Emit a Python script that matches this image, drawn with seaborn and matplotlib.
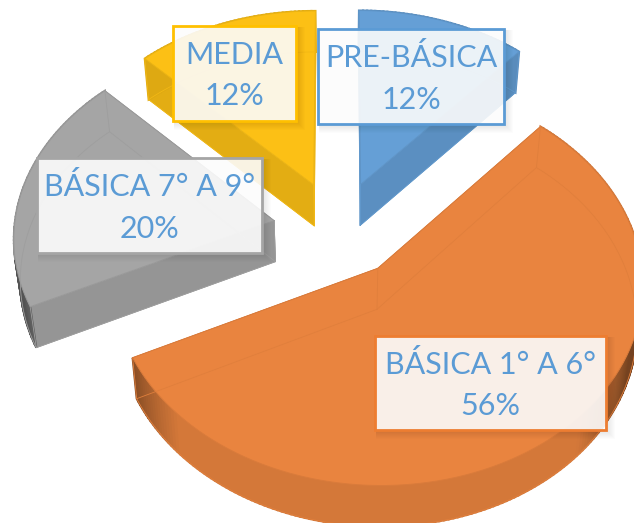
import numpy as np
import seaborn as sns
import matplotlib.pyplot as plt
from matplotlib.patches import Rectangle

sns.set_theme(style='white')
plt.rcParams['font.family'] = ['Lato', 'DejaVu Sans']

# data
categories = ['PRE-BÁSICA', 'BÁSICA 1° A 6°', 'BÁSICA 7° A 9°', 'MEDIA']
shares = [11.5, 56.4, 19.7, 12.4]
share_labels = ['12%', '56%', '20%', '12%']
colors = sns.color_palette(['#659fd6', '#e9843f', '#a5a5a5', '#fcc015'])
edge_colors = ['#5b9bd5', '#ed7d31', '#a5a5a5', '#ffc000']

# label boxes: left, top, right, bottom in pixels
boxes = [(318, 29, 504, 124), (375, 336, 606, 430), (37, 158, 262, 253), (173, 26, 296, 121)]

# camera
cx, cy = 338, 229
sx, sy = 260, 194
persp = 0.0775
explode = 0.25
depth = 41
floor_shrink = 0.98


def project(u, v, floor=False):
    w = 1 + persp * v
    x = sx * u / w
    y = cy - sy * v / w
    if floor:
        return cx + x * floor_shrink, y + depth
    return cx + x, y


def shade(color, f):
    return tuple(c * f for c in color)


def side_shade(theta):
    # rim goes darker only where the front of it turns away from the viewer
    if np.sin(np.deg2rad(theta)) > -0.2:
        return 0.88
    off = abs((theta + 90 + 180) % 360 - 180)
    if off < 46:
        return 0.91
    return max(0.91 - (off - 46) * 0.018, 0.5)


fig, ax = plt.subplots(figsize=(6.34, 5.23), dpi=100)
ax.set_position([0, 0, 1, 1])

wedges, _ = ax.pie(shares, startangle=90, counterclock=False, colors=colors)
angles = [(w.theta1, w.theta2) for w in wedges]
for w in wedges:
    w.remove()

ax.set_aspect('auto')
ax.set_xlim(0, 634)
ax.set_ylim(523, 0)
ax.axis('off')

for i, (t1, t2) in enumerate(angles):
    color = colors[i]
    mid = np.deg2rad((t1 + t2) / 2)
    ou, ov = explode * np.cos(mid), explode * np.sin(mid)
    th = np.linspace(t1, t2, int(t2 - t1) + 2)
    u = np.r_[ou, ou + np.cos(np.deg2rad(th)), ou]
    v = np.r_[ov, ov + np.sin(np.deg2rad(th)), ov]
    tx, ty = project(u, v)
    bx, by = project(u, v, floor=True)

    # radial walls
    for j in [0, len(u) - 2]:
        ax.fill([tx[j], tx[j + 1], bx[j + 1], bx[j]], [ty[j], ty[j + 1], by[j + 1], by[j]],
                color=shade(color, 0.9), lw=0.5, zorder=2)
    # rim
    for j in range(1, len(u) - 2):
        c = shade(color, side_shade((th[j - 1] + th[j]) / 2))
        ax.fill([tx[j], tx[j + 1], bx[j + 1], bx[j]], [ty[j], ty[j + 1], by[j + 1], by[j]],
                color=c, lw=1.5, zorder=2)
    # top face
    ax.fill(tx, ty, color=color, lw=0, zorder=3)
    ax.plot(tx, ty, color=shade(color, 0.93), lw=0.7, zorder=3)
    # hidden floor edges show through the face
    ax.plot(bx, by, color=shade(color, 0.96), lw=0.6, zorder=3)
    for j in [0, 1, len(u) - 2]:
        ax.plot([tx[j], bx[j]], [ty[j], by[j]], color=shade(color, 0.96), lw=0.6, zorder=3)

for cat, lab, box, ec in zip(categories, share_labels, boxes, edge_colors):
    x0, y0, x1, y1 = box
    for k in range(8, 0, -1):
        ax.add_patch(Rectangle((x0 + 1, y0 + 1), x1 - x0 + k, y1 - y0 + k, fc='black', ec='none',
                               alpha=0.012, zorder=4))
    ax.add_patch(Rectangle((x0, y0), x1 - x0, y1 - y0, fc='white', ec='none', alpha=0.89, zorder=5))
    ax.add_patch(Rectangle((x0, y0), x1 - x0, y1 - y0, fc='none', ec=ec, lw=2, zorder=6))
    ax.text((x0 + x1) / 2, (y0 + y1) / 2 + 2, cat + '\n' + lab, ha='center', va='center', color='#5b9bd5',
            fontsize=22, linespacing=1.58, zorder=7)

fig.savefig('out.png', dpi=100)
